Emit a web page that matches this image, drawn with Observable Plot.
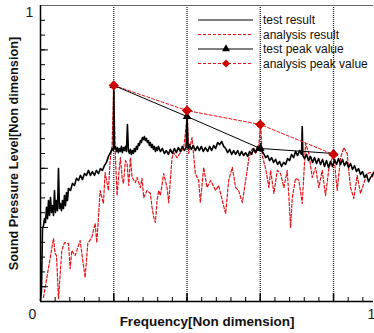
<!DOCTYPE html>
<html>
<head>
<meta charset="utf-8">
<script src="https://cdn.jsdelivr.net/npm/d3@7"></script>
<script src="https://cdn.jsdelivr.net/npm/@observablehq/plot@0.6"></script>
<style>
  html, body { margin: 0; padding: 0; background: #fff; }
  #chart { width: 374px; height: 333px; }
</style>
</head>
<body>
<div id="chart"></div>
<script>
// ---- data (non-dimensional frequency, non-dimensional sound pressure level) ----
const testResult = [
  [0,0.003],[0.003,0.037],[0.006,0.247],[0.009,0.257],[0.012,0.280],[0.015,0.267],[0.018,0.318],[0.021,0.280],
  [0.024,0.341],[0.027,0.291],[0.030,0.351],[0.033,0.301],[0.036,0.324],[0.039,0.291],[0.042,0.375],[0.045,0.301],
  [0.048,0.341],[0.051,0.307],[0.054,0.449],[0.057,0.314],[0.060,0.331],[0.063,0.307],[0.066,0.341],[0.069,0.314],
  [0.072,0.358],[0.075,0.324],[0.078,0.368],[0.081,0.341],[0.084,0.382],[0.090,0.375],[0.096,0.399],[0.102,0.392],
  [0.108,0.416],[0.114,0.409],[0.120,0.426],[0.126,0.412],[0.132,0.432],[0.138,0.426],[0.144,0.443],[0.150,0.426],
  [0.156,0.439],[0.162,0.426],[0.168,0.443],[0.174,0.432],[0.180,0.449],[0.186,0.443],[0.192,0.459],[0.198,0.470],
  [0.204,0.490],[0.210,0.503],[0.216,0.517],[0.219,0.510],[0.220,0.730],[0.222,0.517],[0.225,0.524],[0.228,0.507],
  [0.231,0.520],[0.234,0.503],[0.237,0.517],[0.240,0.507],[0.243,0.524],[0.246,0.503],[0.249,0.520],[0.252,0.510],
  [0.255,0.524],[0.258,0.507],[0.261,0.598],[0.264,0.510],[0.267,0.500],[0.270,0.514],[0.273,0.497],[0.276,0.510],
  [0.279,0.500],[0.282,0.517],[0.285,0.507],[0.288,0.524],[0.291,0.514],[0.294,0.534],[0.297,0.527],[0.300,0.544],
  [0.303,0.537],[0.306,0.554],[0.309,0.547],[0.312,0.557],[0.315,0.544],[0.318,0.551],[0.321,0.537],[0.324,0.544],
  [0.327,0.527],[0.330,0.537],[0.333,0.520],[0.336,0.530],[0.339,0.514],[0.342,0.524],[0.345,0.507],[0.348,0.520],
  [0.351,0.510],[0.354,0.524],[0.360,0.507],[0.366,0.517],[0.372,0.500],[0.378,0.510],[0.384,0.497],[0.390,0.514],
  [0.396,0.500],[0.402,0.517],[0.408,0.503],[0.414,0.520],[0.420,0.507],[0.426,0.524],[0.432,0.510],[0.437,0.520],
  [0.440,0.625],[0.443,0.517],[0.447,0.530],[0.453,0.514],[0.459,0.527],[0.465,0.510],[0.471,0.524],[0.477,0.510],
  [0.483,0.524],[0.489,0.507],[0.495,0.520],[0.502,0.507],[0.508,0.524],[0.514,0.510],[0.520,0.527],[0.526,0.517],
  [0.532,0.537],[0.538,0.530],[0.544,0.541],[0.550,0.524],[0.556,0.517],[0.562,0.503],[0.568,0.514],[0.574,0.497],
  [0.580,0.510],[0.586,0.497],[0.592,0.510],[0.598,0.493],[0.604,0.507],[0.610,0.493],[0.616,0.503],[0.622,0.490],
  [0.628,0.507],[0.634,0.497],[0.640,0.517],[0.646,0.503],[0.652,0.524],[0.658,0.510],[0.661,0.534],[0.664,0.510],
  [0.670,0.500],[0.676,0.486],[0.682,0.493],[0.688,0.476],[0.694,0.486],[0.700,0.470],[0.706,0.480],[0.712,0.463],
  [0.718,0.473],[0.724,0.456],[0.730,0.470],[0.736,0.463],[0.742,0.483],[0.748,0.476],[0.754,0.497],[0.760,0.486],
  [0.766,0.507],[0.772,0.493],[0.778,0.510],[0.784,0.497],[0.786,0.591],[0.788,0.493],[0.793,0.483],[0.799,0.497],
  [0.805,0.476],[0.811,0.490],[0.817,0.470],[0.823,0.486],[0.829,0.466],[0.835,0.483],[0.841,0.463],[0.847,0.480],
  [0.853,0.456],[0.859,0.476],[0.865,0.453],[0.871,0.473],[0.877,0.456],[0.883,0.480],[0.889,0.463],[0.895,0.483],
  [0.901,0.463],[0.907,0.480],[0.913,0.459],[0.919,0.473],[0.925,0.453],[0.931,0.466],[0.937,0.446],[0.943,0.459],
  [0.949,0.439],[0.955,0.449],[0.961,0.429],[0.967,0.439],[0.973,0.419],[0.979,0.429],[0.985,0.405],[0.991,0.419],
  [0.997,0.426],[1.000,0.436]
];

const analysisResult = [
  [0.009,0.014],[0.039,0.213],[0.044,0.162],[0.048,0.155],[0.054,0.010],[0.064,0.172],[0.072,0.199],[0.084,0.196],
  [0.089,0.111],[0.094,0.172],[0.104,0.155],[0.119,0.206],[0.134,0.081],[0.142,0.196],[0.154,0.216],[0.164,0.264],
  [0.169,0.199],[0.174,0.284],[0.179,0.375],[0.189,0.331],[0.194,0.436],[0.204,0.375],[0.209,0.476],[0.215,0.527],
  [0.220,0.730],[0.225,0.486],[0.230,0.358],[0.236,0.443],[0.240,0.486],[0.245,0.419],[0.249,0.399],[0.255,0.476],
  [0.260,0.466],[0.265,0.392],[0.270,0.486],[0.275,0.419],[0.285,0.402],[0.290,0.419],[0.300,0.385],[0.305,0.416],
  [0.310,0.351],[0.320,0.375],[0.330,0.365],[0.335,0.318],[0.340,0.284],[0.345,0.267],[0.350,0.341],[0.355,0.375],
  [0.360,0.358],[0.370,0.432],[0.380,0.385],[0.385,0.334],[0.395,0.486],[0.400,0.503],[0.410,0.486],[0.420,0.503],
  [0.430,0.520],[0.435,0.568],[0.441,0.639],[0.445,0.500],[0.455,0.554],[0.465,0.432],[0.475,0.409],[0.480,0.334],
  [0.490,0.453],[0.500,0.385],[0.511,0.409],[0.526,0.375],[0.535,0.392],[0.546,0.341],[0.556,0.297],[0.565,0.409],
  [0.576,0.453],[0.586,0.385],[0.595,0.375],[0.606,0.334],[0.616,0.409],[0.626,0.486],[0.636,0.517],[0.646,0.500],
  [0.655,0.520],[0.661,0.598],[0.666,0.493],[0.676,0.449],[0.686,0.385],[0.691,0.443],[0.701,0.365],[0.711,0.443],
  [0.721,0.432],[0.731,0.385],[0.741,0.443],[0.746,0.351],[0.751,0.250],[0.756,0.351],[0.766,0.416],[0.776,0.409],
  [0.786,0.331],[0.796,0.534],[0.806,0.500],[0.816,0.419],[0.826,0.453],[0.836,0.385],[0.846,0.443],[0.856,0.358],
  [0.866,0.449],[0.876,0.486],[0.881,0.500],[0.886,0.432],[0.891,0.375],[0.901,0.486],[0.911,0.520],[0.921,0.500],
  [0.931,0.385],[0.941,0.348],[0.951,0.426],[0.961,0.365],[0.971,0.399],[0.981,0.432],[0.991,0.436],[1.000,0.416]
];

const peakFreq = [0.22, 0.44, 0.66, 0.88];
const testPeak = [0.730, 0.625, 0.517, 0.500];
const analysisPeak = [0.730, 0.645, 0.598, 0.497];

const legendLabels = ["test result", "analysis result", "test peak value", "analysis peak value"];
const xMinorTicks = d3.range(0, 1.0001, 0.044);
const yMinorTicks = d3.range(0.05, 1.0, 0.05);
const yMajorTicks = [0.05, 0.25, 0.45, 0.65, 0.85];

// ---- chart ----
const RED = "#e4141b";
const DARKRED = "#d00000";
const font = "'Liberation Sans', Arial, sans-serif";

const testPeakData = peakFreq.map((f, i) => ({f, v: testPeak[i]}));
const analysisPeakData = peakFreq.map((f, i) => ({f, v: analysisPeak[i]}));

const plot = Plot.plot({
  width: 374,
  height: 333,
  marginLeft: 40,
  marginRight: 1,
  marginTop: 5,
  marginBottom: 32,
  style: {fontFamily: font, background: "#fff", overflow: "visible"},
  x: {domain: [0, 1], axis: null},
  y: {domain: [0, 1], axis: null},
  marks: [
    Plot.ruleX(peakFreq, {stroke: "#222", strokeWidth: 1.3, strokeDasharray: "1,1"}),
    Plot.line(analysisResult, {x: "0", y: "1", stroke: RED, strokeWidth: 1.2, strokeDasharray: "3,2", curve: "linear"}),
    Plot.line(testResult, {x: "0", y: "1", stroke: "#000", strokeWidth: 1.6}),
    Plot.line(analysisPeakData, {x: "f", y: "v", stroke: RED, strokeWidth: 1, strokeDasharray: "3,2"}),
    Plot.line(testPeakData, {x: "f", y: "v", stroke: "#000", strokeWidth: 1}),
    Plot.dot(testPeakData, {x: "f", y: "v", symbol: "triangle", r: 3.2, fill: "#000", stroke: null}),
    Plot.dot(analysisPeakData, {x: "f", y: "v", symbol: "diamond2", r: 4.6, fill: DARKRED, stroke: null}),
    // ticks (inward)
    Plot.axisX({ticks: xMinorTicks, tickSize: -4, text: null, anchor: "bottom", stroke: "#000"}),
    Plot.axisX({ticks: peakFreq, tickSize: -8, text: null, anchor: "bottom", stroke: "#000", strokeWidth: 1.5}),
    Plot.axisY({ticks: yMinorTicks, tickSize: -5, text: null, anchor: "left", stroke: "#000"}),
    Plot.axisY({ticks: yMajorTicks, tickSize: -8, text: null, anchor: "left", stroke: "#000"}),
    // frame
    Plot.ruleY([1], {stroke: "#666", strokeWidth: 1}),
    Plot.ruleY([0], {stroke: "#000", strokeWidth: 1.5}),
    Plot.ruleX([0], {stroke: "#000", strokeWidth: 1.5}),
    // tick labels
    Plot.text(["0"], {x: 0, y: 0, dx: -8, dy: 13, fontSize: 14, fill: "#222"}),
    Plot.text(["1"], {x: 1, y: 0, dx: -2, dy: 13, fontSize: 14, fill: "#222"}),
    Plot.text(["1"], {x: 0, y: 1, dx: -11, dy: 7, fontSize: 14, fill: "#222"}),
    // axis titles
    Plot.text(["Frequency[Non dimension]"], {frameAnchor: "bottom", textAnchor: "middle", lineAnchor: "middle", dy: 20, fontSize: 13.5, fontWeight: "bold", fill: "#111"}),
    Plot.text(["Sound Pressure Level[Non dimension]"], {frameAnchor: "left", textAnchor: "middle", lineAnchor: "middle", dx: -27, rotate: -90, fontSize: 12.7, fontWeight: "bold", fill: "#111"})
  ]
});

// ---- legend ----
const svg = d3.select(plot);
const lg = svg.append("g").attr("font-family", font).attr("font-size", 12).attr("text-anchor", "start");
const rowY = [20, 34.5, 49, 63.5];
const styles = [
  {stroke: "#000", dash: null, sym: null},
  {stroke: RED, dash: "3,2", sym: null},
  {stroke: "#000", dash: null, sym: d3.symbolTriangle, fill: "#000", size: 28},
  {stroke: RED, dash: "3,2", sym: d3.symbolDiamond2, fill: DARKRED, size: 40}
];
legendLabels.forEach((label, i) => {
  const s = styles[i];
  const y = rowY[i];
  lg.append("line").attr("x1", 198).attr("x2", 253).attr("y1", y).attr("y2", y)
    .attr("stroke", s.stroke).attr("stroke-width", 1).attr("stroke-dasharray", s.dash);
  if (s.sym) {
    lg.append("path").attr("d", d3.symbol(s.sym, s.size)()).attr("transform", `translate(226,${y})`).attr("fill", s.fill);
  }
  lg.append("text").attr("x", 263).attr("y", y).attr("dy", "0.35em").attr("text-anchor", "start").attr("fill", "#111").text(label);
});

document.getElementById("chart").appendChild(plot);
</script>
</body>
</html>
